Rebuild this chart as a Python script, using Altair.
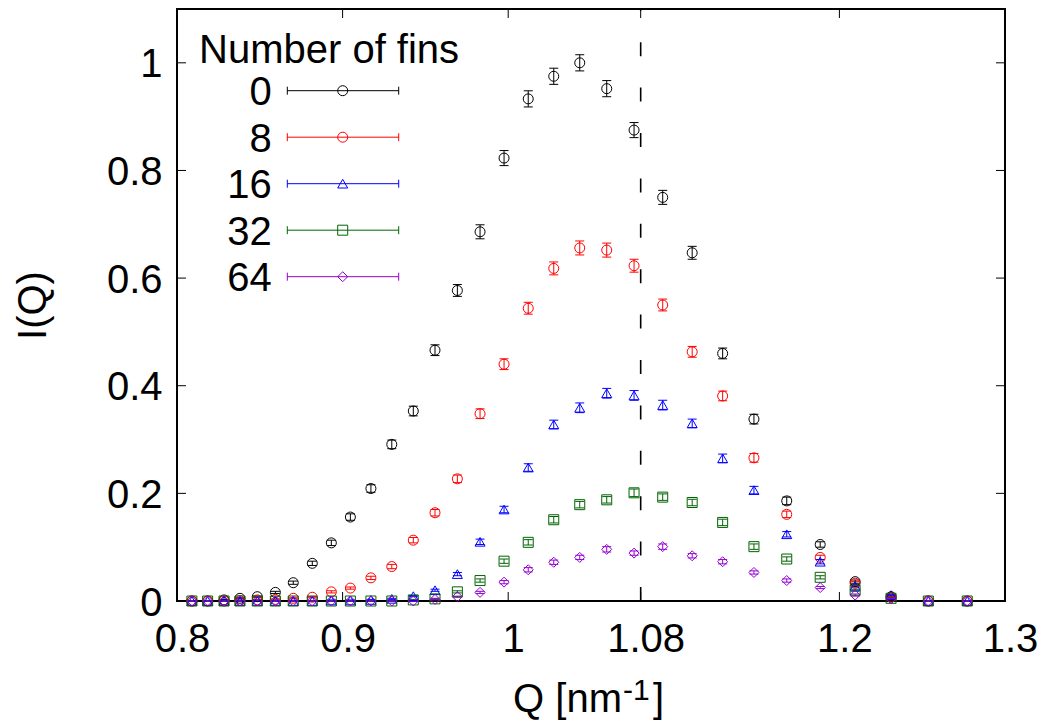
import altair as alt
import pandas as pd

FONT = "Liberation Sans"

# ---------------- data ----------------
Q = [0.809, 0.8185, 0.8284, 0.838, 0.8485, 0.8594, 0.8702, 0.8817, 0.8932, 0.9047,
     0.9171, 0.9297, 0.9427, 0.9558, 0.9693, 0.983, 0.9975, 1.0121, 1.0275, 1.0432,
     1.0595, 1.076, 1.0933, 1.1111, 1.1295, 1.1484, 1.1682, 1.1884, 1.2095, 1.2312,
     1.2537, 1.2772]

fins = ["0", "8", "16", "32", "64"]

I_0 = [0.0, 0.0, 0.002, 0.005, 0.008, 0.016, 0.034, 0.070, 0.108, 0.156,
       0.209, 0.291, 0.353, 0.466, 0.577, 0.686, 0.823, 0.933, 0.975, 1.0,
       0.952, 0.875, 0.750, 0.647, 0.460, 0.338, 0.186, 0.105, 0.036, 0.008,
       0.0, 0.0]
E_0 = [0.0, 0.0, 0.001, 0.001, 0.001, 0.002, 0.003, 0.004, 0.005, 0.006,
       0.007, 0.008, 0.009, 0.010, 0.011, 0.013, 0.014, 0.015, 0.015, 0.015,
       0.015, 0.014, 0.013, 0.012, 0.010, 0.009, 0.007, 0.005, 0.003, 0.001,
       0.0, 0.0]

I_8 = [0.0, 0.0, 0.0, 0.001, 0.002, 0.003, 0.005, 0.007, 0.017, 0.024,
       0.043, 0.064, 0.113, 0.164, 0.227, 0.348, 0.440, 0.544, 0.618, 0.656,
       0.652, 0.623, 0.550, 0.463, 0.381, 0.266, 0.161, 0.081, 0.033, 0.007,
       0.0, 0.0]
E_8 = [0.0, 0.0, 0.0, 0.001, 0.001, 0.001, 0.001, 0.001, 0.002, 0.002,
       0.003, 0.004, 0.005, 0.006, 0.007, 0.009, 0.010, 0.011, 0.012, 0.013,
       0.013, 0.012, 0.011, 0.010, 0.009, 0.008, 0.006, 0.004, 0.003, 0.001,
       0.0, 0.0]

I_16 = [0.0, 0.0, 0.0, 0.0, 0.0, 0.0, 0.0, 0.0, 0.001, 0.001,
        0.002, 0.004, 0.009, 0.020, 0.050, 0.110, 0.170, 0.248, 0.328, 0.359,
        0.386, 0.382, 0.364, 0.330, 0.265, 0.206, 0.124, 0.073, 0.028, 0.011,
        0.0, 0.0]
E_16 = [0.0, 0.0, 0.0, 0.0, 0.0, 0.0, 0.0, 0.0, 0.001, 0.001,
        0.001, 0.001, 0.001, 0.002, 0.003, 0.005, 0.006, 0.007, 0.008, 0.009,
        0.009, 0.009, 0.009, 0.008, 0.008, 0.007, 0.005, 0.004, 0.002, 0.001,
        0.0, 0.0]

I_32 = [0.0, 0.0, 0.0, 0.0, 0.0, 0.0, 0.0, 0.0, 0.0, 0.0,
        0.0, 0.0, 0.002, 0.004, 0.017, 0.038, 0.074, 0.109, 0.151, 0.179,
        0.188, 0.201, 0.193, 0.183, 0.146, 0.101, 0.078, 0.044, 0.020, 0.005,
        0.0, 0.0]
E_32 = [0.0, 0.0, 0.0, 0.0, 0.0, 0.0, 0.0, 0.0, 0.0, 0.0,
        0.0, 0.0, 0.001, 0.001, 0.002, 0.003, 0.004, 0.005, 0.006, 0.006,
        0.006, 0.007, 0.006, 0.006, 0.006, 0.005, 0.004, 0.003, 0.002, 0.001,
        0.0, 0.0]

I_64 = [0.0, 0.0, 0.0, 0.0, 0.0, 0.0, 0.0, 0.0, 0.0, 0.0,
        0.0, 0.0, 0.0, 0.003, 0.008, 0.016, 0.035, 0.058, 0.072, 0.081,
        0.096, 0.089, 0.101, 0.084, 0.073, 0.053, 0.038, 0.025, 0.011, 0.004,
        0.0, 0.0]
E_64 = [0.0, 0.0, 0.0, 0.0, 0.0, 0.0, 0.0, 0.0, 0.0, 0.0,
        0.0, 0.0, 0.0, 0.001, 0.001, 0.002, 0.003, 0.004, 0.004, 0.004,
        0.005, 0.004, 0.005, 0.004, 0.004, 0.003, 0.003, 0.002, 0.002, 0.001,
        0.0, 0.0]

x_ticks = [0.8, 0.9, 1.0, 1.08, 1.2, 1.3]
y_ticks = [0.0, 0.2, 0.4, 0.6, 0.8, 1.0]
q_marker = 1.08
legend_title = "Number of fins"
y_title = "I(Q)"

colors = ["#000000", "#ff0000", "#0000ff", "#006400", "#9400d3"]
shapes = ["circle", "circle", "triangle-up", "square", "diamond"]

# ---------------- tables ----------------
rows = []
for k, (name, vals, errs) in enumerate(zip(fins, [I_0, I_8, I_16, I_32, I_64],
                                           [E_0, E_8, E_16, E_32, E_64])):
    for q, v, e in zip(Q, vals, errs):
        rows.append({"fins": name, "k": k, "Q": q, "I": v, "lo": v - e, "hi": v + e,
                     "color": colors[k], "shape": shapes[k]})
df = pd.DataFrame(rows)

W, H = 828, 592
xscale = alt.Scale(domain=[0.8, 1.3], nice=False, zero=False)
yscale = alt.Scale(domain=[0.0, 1.1], nice=False, zero=False)

xaxis = alt.Axis(values=x_ticks, labelExpr="format(datum.value, '.3~g')",
                 labelPadding=18, labelOffset=5,
                 labelOverlap=False, labelFlush=False)
yaxis = alt.Axis(values=y_ticks, labelExpr="format(datum.value, '.3~g')",
                 labelPadding=15, labelOffset=2,
                 labelOverlap=False, labelFlush=False, labelBaseline="middle",
                 titleX=-124, titleY=296, titleAngle=270,
                 titleBaseline="bottom", titleAlign="center")


def X(field):
    return alt.X(field, scale=xscale, axis=xaxis, title=None)


def Y(field):
    return alt.Y(field, scale=yscale, axis=yaxis, title=y_title)


base = alt.Chart(df)
colr = alt.Color("color:N", scale=None)

dash = alt.Chart(pd.DataFrame({"q": [q_marker], "y0": [0.0], "y1": [1.1]})).mark_rule(
    color="black", strokeWidth=1.6, strokeDash=[14, 31.4]
).encode(x=X("q:Q"), y=Y("y0:Q"), y2="y1:Q")

bars = base.mark_rule(strokeWidth=1).encode(x=X("Q:Q"), y=Y("lo:Q"), y2="hi:Q", color=colr)
cap_lo = base.mark_point(shape="M-1,0H1", size=81, filled=False, strokeWidth=1, opacity=1).encode(
    x=X("Q:Q"), y=Y("lo:Q"), color=colr)
cap_hi = base.mark_point(shape="M-1,0H1", size=81, filled=False, strokeWidth=1, opacity=1).encode(
    x=X("Q:Q"), y=Y("hi:Q"), color=colr)
pts = base.mark_point(filled=False, size=100, strokeWidth=1, opacity=1).encode(
    x=X("Q:Q"), y=Y("I:Q"), color=colr, shape=alt.Shape("shape:N", scale=None))

# inward ticks on all four sides
xt = alt.Chart(pd.DataFrame({"t": x_ticks}))
yt = alt.Chart(pd.DataFrame({"t": y_ticks}))
tick_style = dict(color="black", strokeWidth=1)
t_bottom = xt.mark_rule(**tick_style).encode(x=X("t:Q"), y=alt.value(H), y2=alt.value(H - 9))
t_top = xt.mark_rule(**tick_style).encode(x=X("t:Q"), y=alt.value(0), y2=alt.value(9))
t_left = yt.mark_rule(**tick_style).encode(y=Y("t:Q"), x=alt.value(0), x2=alt.value(9))
t_right = yt.mark_rule(**tick_style).encode(y=Y("t:Q"), x=alt.value(W), x2=alt.value(W - 9))

# x-axis title with superscript
xt_df = alt.Chart(pd.DataFrame({"a": ["Q [nm"], "b": ["-1"], "c": ["]"]}))
xt_main = xt_df.mark_text(font=FONT, fontSize=40, align="right", baseline="alphabetic", color="black").encode(
    x=alt.value(445), y=alt.value(703), text="a:N")
xt_sup = xt_df.mark_text(font=FONT, fontSize=30, align="left", baseline="alphabetic", color="black").encode(
    x=alt.value(446), y=alt.value(691), text="b:N")
xt_end = xt_df.mark_text(font=FONT, fontSize=40, align="left", baseline="alphabetic", color="black").encode(
    x=alt.value(476), y=alt.value(703), text="c:N")

# legend (gnuplot style: right-aligned label, then sample with error bar)
leg_layers = []
leg_title = alt.Chart(pd.DataFrame({"t": [legend_title]})).mark_text(
    font=FONT, fontSize=40, align="left", baseline="alphabetic", color="black"
).encode(x=alt.value(22), y=alt.value(53.7), text="t:N")
leg_layers.append(leg_title)
for i, name in enumerate(fins):
    ly = 81.7 + 46.5 * i
    ldf = alt.Chart(pd.DataFrame({"name": [name], "color": [colors[i]], "shape": [shapes[i]]}))
    leg_layers.append(ldf.mark_text(font=FONT, fontSize=40, align="right", baseline="alphabetic",
                                    color="black").encode(
        x=alt.value(94.7), y=alt.value(ly + 14.3), text="name:N"))
    leg_layers.append(ldf.mark_rule(strokeWidth=1).encode(
        x=alt.value(110.3), x2=alt.value(221.7), y=alt.value(ly), color=colr))
    for cx in (110.3, 221.7):
        leg_layers.append(ldf.mark_point(shape="M0,-1V1", size=64, filled=False, strokeWidth=1,
                                         opacity=1).encode(
            x=alt.value(cx), y=alt.value(ly), color=colr))
    leg_layers.append(ldf.mark_point(filled=False, size=100, strokeWidth=1, opacity=1).encode(
        x=alt.value(165.7), y=alt.value(ly), color=colr,
        shape=alt.Shape("shape:N", scale=None)))

chart = alt.layer(
    dash, bars, cap_lo, cap_hi, pts, t_bottom, t_top, t_left, t_right,
    xt_main, xt_sup, xt_end, *leg_layers
).properties(
    width=W, height=H,
    autosize=alt.AutoSizeParams(type="none"),
    padding={"left": 177, "top": 9, "right": 37, "bottom": 121},
    background="white",
).configure_view(
    stroke="black", strokeWidth=2
).configure_axis(
    labelFont=FONT, labelFontSize=40, labelColor="black",
    titleFont=FONT, titleFontSize=40, titleColor="black", titleFontWeight="normal",
    grid=False, ticks=False, tickSize=0, domain=False,
)

chart.save("out.html", embed_options={"renderer": "svg", "actions": False})
